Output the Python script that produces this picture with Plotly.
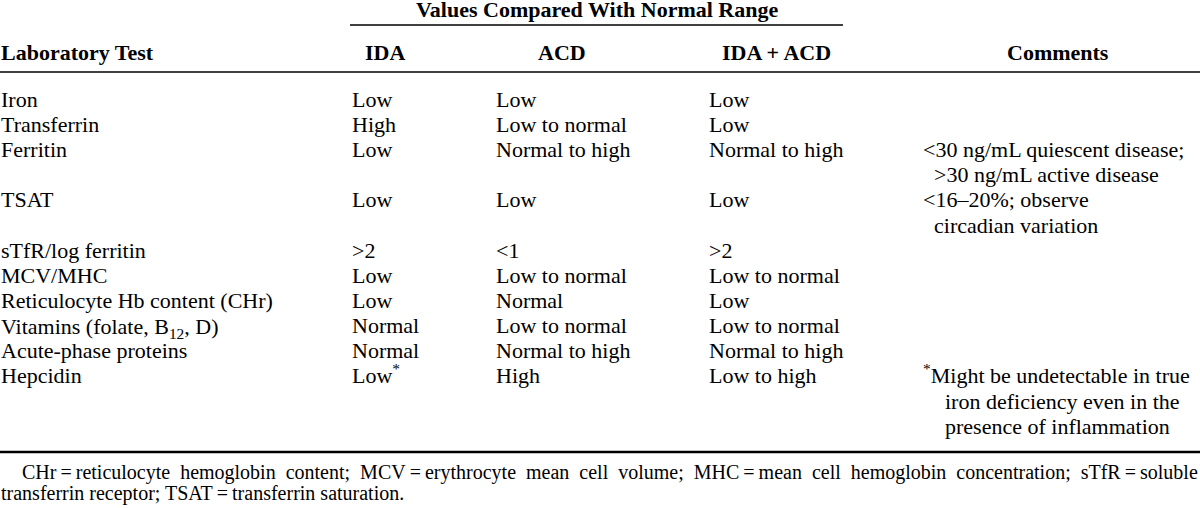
import plotly.graph_objects as go

# ---------------- data ----------------
group_header = "Values Compared With Normal Range"
col_headers = ["Laboratory Test", "IDA", "ACD", "IDA + ACD", "Comments"]

lab_tests = ["Iron", "Transferrin", "Ferritin", "TSAT", "sTfR/log ferritin", "MCV/MHC",
             "Reticulocyte Hb content (CHr)", "Vitamins (folate, B<sub>12</sub>, D)",
             "Acute-phase proteins", "Hepcidin"]
ida = ["Low", "High", "Low", "Low", "&gt;2", "Low", "Low", "Normal", "Normal",
       "Low<sup>*</sup>"]
acd = ["Low", "Low to normal", "Normal to high", "Low", "&lt;1", "Low to normal",
       "Normal", "Low to normal", "Normal to high", "High"]
ida_acd = ["Low", "Low", "Normal to high", "Low", "&gt;2", "Low to normal", "Low",
           "Low to normal", "Normal to high", "Low to high"]
comments = [
    [], [],
    ["&lt;30 ng/mL quiescent disease;", "&gt;30 ng/mL active disease"],
    ["&lt;16–20%; observe", "circadian variation"],
    [], [], [], [], [],
    ["<sup>*</sup>Might be undetectable in true", "iron deficiency even in the",
     "presence of inflammation"],
]
footnote = [
    "CHr = reticulocyte hemoglobin content; MCV = erythrocyte mean cell volume; "
    "MHC = mean cell hemoglobin concentration; sTfR = soluble",
    "transferrin receptor; TSAT = transferrin saturation.",
]

# ---------------- style / layout constants ----------------
FONT = "Liberation Serif, Times New Roman, serif"
FS = 22
FS_NOTE = 20
W, H = 1200, 508
col_left = [0, 351, 495, 708, 922]
col_center = [None, 385, 562, 776, 1058]
group_span = (350, 843)
row0_base = 108
pitch = 25.15

annotations = []


def add_text(x, baseline, text, size=FS, bold=False, xanchor="left"):
    if bold:
        text = "<b>" + text + "</b>"
    if "<sub>" in text:
        yanchor, y = "top", baseline - 0.891 * size - 1.5
    else:
        yanchor, y = "bottom", baseline + 0.216 * size
    annotations.append(dict(
        x=x, y=y, xref="x", yref="y", text=text, showarrow=False,
        xanchor=xanchor, yanchor=yanchor, borderpad=0,
        font=dict(family=FONT, size=size, color="black"),
    ))


# group header
add_text((group_span[0] + group_span[1]) / 2, 18.5, group_header, bold=True, xanchor="center")
# column headers
add_text(0, 61.5, col_headers[0], bold=True)
for i in range(1, 5):
    add_text(col_center[i], 61.5, col_headers[i], bold=True, xanchor="center")

# body rows
line = 0
for r, test in enumerate(lab_tests):
    base = row0_base + pitch * line
    add_text(col_left[0], base, test)
    add_text(col_left[1], base, ida[r])
    add_text(col_left[2], base, acd[r])
    add_text(col_left[3], base, ida_acd[r])
    for j, c in enumerate(comments[r]):
        indent = 0
        if j > 0:
            indent = 22 if comments[r][0].startswith("<sup>") else 11
        add_text(col_left[4] + indent, base + pitch * j, c)
    line += max(1, len(comments[r]))


# footnote (justified first line approximated with widened spaces)
def spaced(s, extra):
    s = s.replace(" = ", "\u2009=\u2009")
    return s.replace(" ", " " + extra) if extra else s


add_text(21, 481, spaced(footnote[0], "\u2005"), size=FS_NOTE)
add_text(0, 501.5, spaced(footnote[1], ""), size=FS_NOTE)

shapes = [
    dict(type="line", xref="x", yref="y", x0=group_span[0], x1=group_span[1], y0=25, y1=25,
         line=dict(color="black", width=1.5)),
    dict(type="line", xref="x", yref="y", x0=0, x1=W, y0=72, y1=72,
         line=dict(color="black", width=1.5)),
    dict(type="line", xref="x", yref="y", x0=0, x1=W, y0=452, y1=452,
         line=dict(color="black", width=2.5)),
]

fig = go.Figure(go.Scatter(x=[], y=[], hoverinfo="skip", showlegend=False))
fig.update_layout(
    width=W, height=H, margin=dict(l=0, r=0, t=0, b=0),
    paper_bgcolor="white", plot_bgcolor="white",
    xaxis=dict(range=[0, W], visible=False, fixedrange=True),
    yaxis=dict(range=[H, 0], visible=False, fixedrange=True),
    annotations=annotations, shapes=shapes, showlegend=False,
)
fig.write_html(
    "out.html",
    config={"displayModeBar": False},
    post_script="document.body.style.margin='0';document.body.style.padding='0';"
                "document.body.style.overflow='hidden';",
)
